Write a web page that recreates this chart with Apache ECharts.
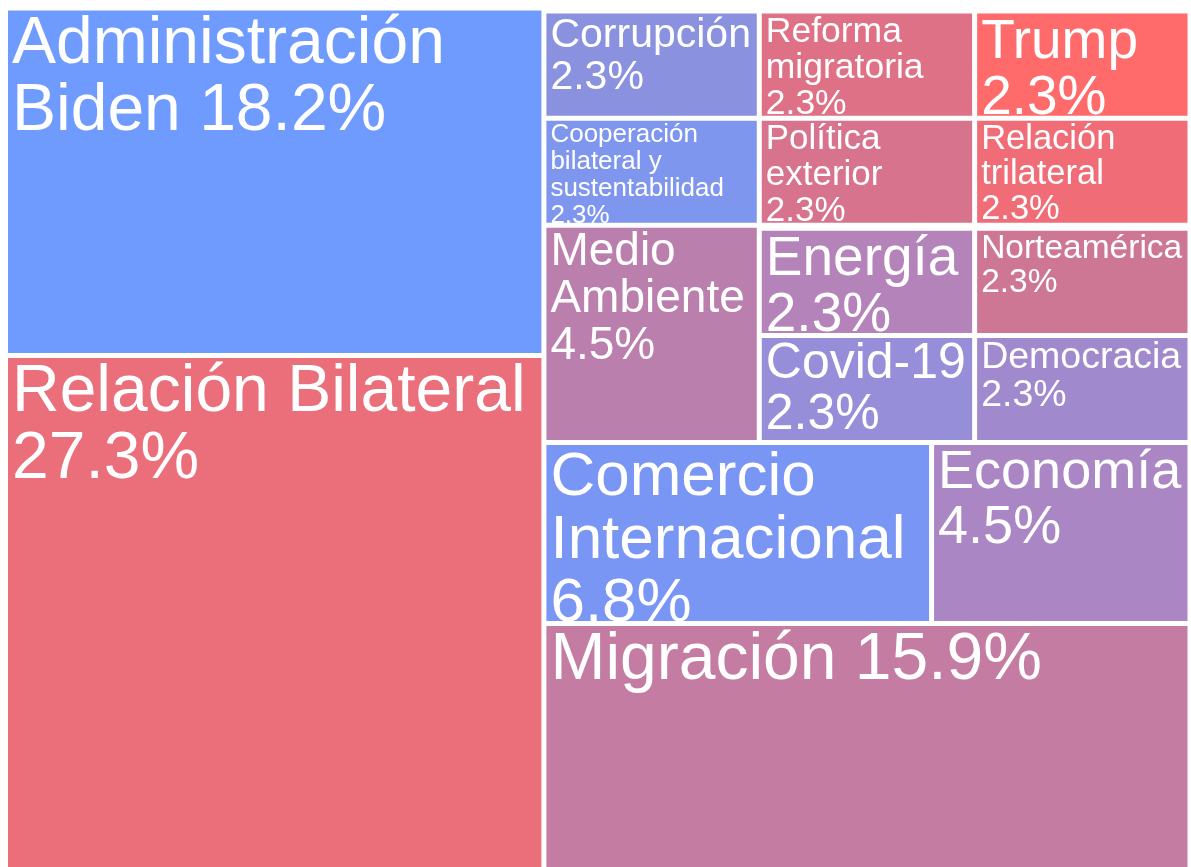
<!DOCTYPE html>
<html lang="es">
<head>
<meta charset="utf-8">
<title>Temas</title>
<script src="https://cdn.jsdelivr.net/npm/echarts@6/dist/echarts.min.js"></script>
<style>
  html, body { margin: 0; padding: 0; background: #fff; }
  #chart { width: 1191px; height: 867px; }
</style>
</head>
<body>
<div id="chart"></div>
<script>
// Temas y número de menciones (44 en total -> 1 = 2.3%)
const topics = [
  'Administración\nBiden', 'Relación Bilateral', 'Corrupción',
  'Cooperación\nbilateral y\nsustentabilidad', 'Medio\nAmbiente',
  'Reforma\nmigratoria', 'Política\nexterior', 'Energía', 'Covid-19',
  'Trump', 'Relación\ntrilateral', 'Norteamérica', 'Democracia',
  'Comercio\nInternacional', 'Economía', 'Migración'
]
const mentions = [8, 12, 1, 1, 2, 1, 1, 1, 1, 1, 1, 1, 1, 3, 2, 7]

// temas cuyo porcentaje va en la misma línea
const inlinePct = ['Administración\nBiden', 'Migración']

// estilos por tema
const tileColors = [
  '#6f9bff', '#eb6f7a', '#8a92e0', '#7f96ee', '#bb7fad',
  '#de7186', '#d8738d', '#b483b9', '#978eda', '#ff6a6a',
  '#f06c76', '#cd7795', '#a08acd', '#7996f4', '#ab86c4', '#c47ca3'
]
const fontSizes = [66, 66, 41, 26, 46, 35.5, 35, 55, 50, 55, 34.5, 33.5, 37.5, 62, 54, 66]

// anidado de índices: agrupa los mosaicos para que el squarify dé la misma disposición
const tiling = [0, 1, [[2, 3], 4], [[5, 6], [7, 8]], [[9, 10], [11, 12]], [13, 14], 15]

const total = mentions.reduce((a, b) => a + b, 0)

function buildNode(node, depth) {
  if (Array.isArray(node)) {
    const group = { name: '', children: node.map(n => buildNode(n, depth + 1)) }
    // las parejas dentro de cada columna casi son cuadradas: una franja superior
    // de 3px (vacía) las deja un poco más anchas que altas y se apilan en vertical
    if (depth === 1) group.upperLabel = { show: true, height: 3 }
    return group
  }
  const f = fontSizes[node]
  return {
    name: topics[node],
    value: mentions[node],
    itemStyle: { color: tileColors[node] },
    label: { fontSize: f, lineHeight: Math.round(f * 1.02) }
  }
}

const chart = echarts.init(document.getElementById('chart'))

chart.setOption({
  animation: false,
  series: [{
    type: 'treemap',
    left: 8,
    right: 3.5,
    top: 10.5,
    height: 864,
    sort: false,
    roam: false,
    nodeClick: false,
    breadcrumb: { show: false },
    itemStyle: { borderWidth: 0, gapWidth: 5, borderColor: '#fff' },
    upperLabel: { show: false },
    label: {
      show: true,
      position: 'insideTopLeft',
      distance: 0,
      padding: [1, 0, -60, 4],
      color: '#fff',
      textBorderWidth: 0,
      overflow: 'none',
      fontFamily: '"Liberation Sans", Arial, sans-serif',
      formatter: p => {
        const pct = (p.value / total * 100).toFixed(1) + '%'
        return p.name + (inlinePct.includes(p.name) ? ' ' : '\n') + pct
      }
    },
    data: tiling.map(n => buildNode(n, 0))
  }]
})
</script>
</body>
</html>
